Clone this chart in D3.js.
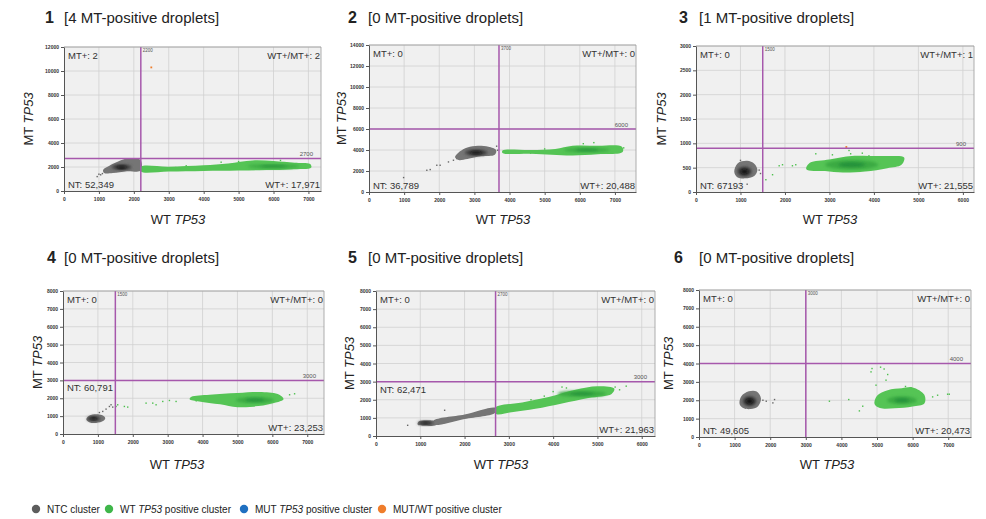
<!DOCTYPE html>
<html>
<head>
<meta charset="utf-8">
<script src="https://cdn.jsdelivr.net/npm/d3@7/dist/d3.min.js"></script>
<style>
  body { margin: 0; background: #fff; font-family: "Liberation Sans", Arial, sans-serif; }
  .tick text { font-size: 5px; font-weight: bold; fill: #333; }
</style>
</head>
<body>
<svg id="chart" width="986" height="519"></svg>
<script>
// ---- values ----
var panelNo       = [1, 2, 3, 4, 5, 6];
var mtPositive    = [4, 0, 1, 0, 0, 0];
var xMax          = [7360, 7600, 6250, 7480, 6300, 7640];
var xTickMax      = [7000, 7000, 6000, 7000, 6000, 7000];
var yMax          = [12000, 14000, 3000, 8000, 8000, 8000];
var yStep         = [2000, 2000, 500, 1000, 1000, 1000];
var xThreshold    = [2200, 3700, 1500, 1500, 2700, 3000];
var yThreshold    = [2700, 6000, 900, 3000, 3000, 4000];
var mtCount       = ["2", "0", "0", "0", "0", "0"];
var wtmtCount     = ["2", "0", "1", "0", "0", "0"];
var ntCount       = ["52,349", "36,789", "67193", "60,791", "62,471", "49,605"];
var wtCount       = ["17,971", "20,488", "21,555", "23,253", "21,963", "20,473"];

// NTC cluster outlines (one or more polygons per panel), dense core [cx, cy, rx, ry], stray droplets
var ntcShapes = [
  [[[1150,1500],[1400,1500],[1800,1650],[2200,1700],[2200,2550],[2050,2700],[1800,2700],[1550,2450],[1300,2100],[1120,1750]]],
  [[[2550,3050],[2800,3150],[3200,3400],[3580,3550],[3620,3980],[3400,4300],[3100,4400],[2800,4250],[2580,3850],[2450,3300]]],
  [[[860,420],[920,310],[1100,280],[1310,330],[1380,450],[1310,580],[1150,640],[940,590]]],
  [[[670,800],[770,640],[950,620],[1160,740],[1210,900],[1110,1060],[900,1100],[710,970]]],
  [[[940,630],[1100,560],[1360,610],[1390,780],[1200,870],[970,810]],
   [[1300,840],[2000,1180],[2700,1540],[2700,1300],[2000,940],[1300,630]]],
  [[[1140,1800],[1240,1580],[1450,1520],[1660,1680],[1740,2100],[1620,2480],[1400,2490],[1190,2220]]]
];
var ntcCore = [[1650,1980,280,220],[3050,3750,320,270],[1090,420,160,100],[880,860,190,130],[1120,720,180,100],[1420,1950,190,270]];
var ntcDots = [
  [[950,1200],[1050,1350],[1100,1450],[1000,1400]],
  [[1646,2070],[1742,2137],[1930,2548],[2025,2548],[2262,2863],[2404,3025],[2498,3187],[985,1374],[3633,4361],[3661,3979]],
  [[1420,450],[1450,380],[1150,160],[1000,650]],
  [[1139,1262],[1234,1392],[1377,1636],[1425,1505],[1330,1540],[1043,1200]],
  [[715,590],[1550,1420]],
  [[1795,2001],[1889,1947],[2075,1856],[2122,2038]]
];

// WT TP53 positive cluster
var wtShapes = [
  [[[2200,2020],[3000,2030],[4000,2150],[4700,2300],[5400,2550],[6000,2500],[6600,2350],[7050,2250],[7080,1950],[6500,1800],[5800,1750],[5000,1700],[4000,1660],[3000,1620],[2200,1620]]],
  [[[3800,3950],[4600,4000],[5300,4100],[5800,4400],[6500,4400],[7200,4300],[7220,3800],[6500,3600],[5800,3480],[5200,3550],[4600,3650],[3800,3720]]],
  [[[2480,470],[2900,430],[3300,400],[3800,420],[4300,490],[4620,560],[4680,710],[4300,740],[3900,740],[3500,740],[3000,670],[2560,600]]],
  [[[3680,2080],[4200,2200],[5000,2300],[5700,2350],[6200,2200],[6320,1950],[6100,1760],[5600,1560],[5000,1500],[4500,1660],[3900,1820],[3630,1950]]],
  [[[2700,1580],[3300,1850],[3900,2150],[4500,2550],[5000,2750],[5380,2620],[5320,2320],[4800,2100],[4200,1800],[3600,1500],[3100,1320],[2700,1230]]],
  [[[4930,1800],[5000,2250],[5300,2550],[5700,2650],[6000,2700],[6330,2300],[6330,1820],[6000,1660],[5500,1560],[5080,1580]]]
];
var wtCore = [[6000,2060,750,170],[6200,4000,650,200],[3500,560,600,100],[5500,1900,550,170],[4650,2330,550,170],[5700,2000,420,220]];
var wtDots = [
  [[4500,2400],[5000,2450],[3500,2100],[6200,2550],[2600,1900],[3200,1950]],
  [[4000,3800],[4300,3850],[4600,3700],[5000,4100],[6100,4600],[6400,4700],[7250,4200]],
  [[1571,252],[1721,355],[1870,539],[1945,560],[2168,539],[2243,560],[2693,785],[3067,764],[3440,853],[3477,785],[3739,798],[3888,743],[4487,628],[4600,600]],
  [[1520,1541],[1568,1634],[1759,1541],[1855,1505],[2381,1727],[2572,1727],[2859,1820],[3050,1876],[3241,1820],[2668,1634],[6494,2195],[6637,2250],[3818,1857]],
  [[3500,2000],[3800,2200],[4000,2450],[4300,2650],[4200,2700],[5500,2550],[5650,2750],[5400,2700]],
  [[3663,1947],[4206,2038],[4505,1421],[4599,1676],[4832,3544],[4860,3726],[5100,3800],[5200,3700],[5300,3400],[4972,2820],[5253,3093],[5800,2750],[6562,2183],[6702,2274],[6983,2329],[7030,2329]]
];
// MUT/WT double positive droplets
var dblDots = [[[2500,10300]], [], [[3380,925]], [], [], []];

var legendLabels = [["NTC cluster"], ["WT ", "TP53", " positive cluster"], ["MUT ", "TP53", " positive cluster"], ["MUT/WT positive cluster"]];
var legendColors = ["#5d5d5d", "#3fb64a", "#1f70c1", "#ef7d2b"];

// ---- layout ----
var layout = [
  {left: 64,  top: 47,  w: 257, h: 144, numX: 45,  titleX: 64,  titleY: 23,  ylabX: 28,  xlabX: 178, xlabY: 224, ntTop: false},
  {left: 369, top: 45,  w: 267, h: 147, numX: 348, titleX: 368, titleY: 23,  ylabX: 341, xlabX: 503, xlabY: 224, ntTop: false},
  {left: 696, top: 46,  w: 278, h: 146, numX: 679, titleX: 699, titleY: 23,  ylabX: 661, xlabX: 830, xlabY: 224, ntTop: false},
  {left: 63,  top: 291, w: 261, h: 143, numX: 47,  titleX: 64,  titleY: 263, ylabX: 37,  xlabX: 177, xlabY: 469, ntTop: true},
  {left: 376, top: 291, w: 279, h: 145, numX: 348, titleX: 368, titleY: 263, ylabX: 349, xlabX: 501, xlabY: 469, ntTop: true},
  {left: 699, top: 290, w: 272, h: 147, numX: 674, titleX: 699, titleY: 263, ylabX: 668, xlabX: 827, xlabY: 469, ntTop: false}
];

var purple = "#a658ac";
var svg = d3.select("#chart");

var defs = svg.append("defs");
defs.append("filter").attr("id", "soft").attr("x", "-20%").attr("y", "-50%").attr("width", "140%").attr("height", "200%")
  .append("feGaussianBlur").attr("stdDeviation", 0.6);
defs.append("filter").attr("id", "softer").attr("x", "-50%").attr("y", "-50%").attr("width", "200%").attr("height", "200%")
  .append("feGaussianBlur").attr("stdDeviation", 1.8);

panelNo.forEach(function(n, i) {
  var L = layout[i];
  var x = d3.scaleLinear().domain([0, xMax[i]]).range([0, L.w]);
  var y = d3.scaleLinear().domain([0, yMax[i]]).range([L.h, 0]);
  var xt = d3.range(0, xTickMax[i] + 1, 1000);
  var yt = d3.range(0, yMax[i] + 1, yStep[i]);

  // title
  svg.append("text").attr("x", L.numX).attr("y", L.titleY).style("font-size", "16px").style("font-weight", "bold")
    .style("fill", "#222").text(n);
  svg.append("text").attr("x", L.titleX).attr("y", L.titleY).style("font-size", "15px").style("fill", "#222")
    .text("[" + mtPositive[i] + " MT-positive droplets]");

  // axis titles
  var yl = svg.append("text").attr("transform", "translate(" + L.ylabX + "," + (L.top + L.h / 2) + ") rotate(-90)")
    .attr("text-anchor", "middle").attr("dy", "0.35em").style("font-size", "13px").style("fill", "#222");
  yl.append("tspan").text("MT ");
  yl.append("tspan").style("font-style", "italic").text("TP53");
  var xl = svg.append("text").attr("x", L.xlabX).attr("y", L.xlabY).attr("text-anchor", "middle")
    .style("font-size", "13px").style("fill", "#222");
  xl.append("tspan").text("WT ");
  xl.append("tspan").style("font-style", "italic").text("TP53");

  var g = svg.append("g").attr("transform", "translate(" + L.left + "," + L.top + ")");

  g.append("rect").attr("width", L.w).attr("height", L.h).attr("fill", "#f0f0f0");

  // gridlines
  g.append("g").selectAll("line").data(xt.slice(1)).enter().append("line")
    .attr("x1", function(d) { return x(d); }).attr("x2", function(d) { return x(d); })
    .attr("y1", 0).attr("y2", L.h).attr("stroke", "#d0d0d0").attr("stroke-width", 0.8);
  g.append("g").selectAll("line").data(yt.slice(1)).enter().append("line")
    .attr("y1", function(d) { return y(d); }).attr("y2", function(d) { return y(d); })
    .attr("x1", 0).attr("x2", L.w).attr("stroke", "#d0d0d0").attr("stroke-width", 0.8);

  // clip clusters to plot
  var clipId = "clip" + n;
  defs.append("clipPath").attr("id", clipId).append("rect").attr("width", L.w).attr("height", L.h);
  var pg = g.append("g").attr("clip-path", "url(#" + clipId + ")");

  var outline = d3.line().x(function(d) { return x(d[0]); }).y(function(d) { return y(d[1]); })
    .curve(d3.curveCatmullRomClosed.alpha(0.5));

  function cluster(shapes, core, dots, dotColor, edge, mid, dark) {
    dots.forEach(function(p) {
      pg.append("rect").attr("x", x(p[0]) - 0.7).attr("y", y(p[1]) - 0.7).attr("width", 1.4).attr("height", 1.4)
        .attr("fill", dotColor);
    });
    pg.selectAll(null).data(shapes).enter().append("path")
      .attr("d", outline).attr("fill", edge).attr("filter", "url(#soft)");
    pg.append("ellipse")
      .attr("cx", x(core[0])).attr("cy", y(core[1]))
      .attr("rx", x(core[2]) - x(0)).attr("ry", y(0) - y(core[3]))
      .attr("fill", mid).attr("filter", "url(#softer)");
    pg.append("ellipse")
      .attr("cx", x(core[0])).attr("cy", y(core[1]))
      .attr("rx", (x(core[2]) - x(0)) * 0.5).attr("ry", (y(0) - y(core[3])) * 0.5)
      .attr("fill", dark).attr("filter", "url(#softer)");
  }
  cluster(ntcShapes[i], ntcCore[i], ntcDots[i], "#666", "#747474", "#3a3a3a", "#0d0d0d");
  cluster(wtShapes[i], wtCore[i], wtDots[i], "#4cbf4c", "#55c455", "#3aaa42", "#23913a");
  dblDots[i].forEach(function(p) {
    pg.append("rect").attr("x", x(p[0]) - 0.9).attr("y", y(p[1]) - 0.9).attr("width", 1.8).attr("height", 1.8)
      .attr("fill", legendColors[3]);
  });

  // threshold lines
  g.append("line").attr("x1", x(xThreshold[i])).attr("x2", x(xThreshold[i])).attr("y1", 0).attr("y2", L.h)
    .attr("stroke", purple).attr("stroke-width", 1.5);
  g.append("line").attr("y1", y(yThreshold[i])).attr("y2", y(yThreshold[i])).attr("x1", 0).attr("x2", L.w)
    .attr("stroke", purple).attr("stroke-width", 1.5);
  g.append("text").attr("x", L.w - 8).attr("y", y(yThreshold[i]) - 2.5).attr("text-anchor", "end")
    .style("font-size", "6px").style("fill", "#555").text(yThreshold[i]);
  g.append("text").attr("x", x(xThreshold[i]) + 2).attr("y", 4.5)
    .style("font-size", "4.5px").style("fill", "#555").text(xThreshold[i]);

  // border
  g.append("path").attr("d", "M0,0H" + L.w + "V" + L.h).attr("fill", "none").attr("stroke", "#9a9a9a").attr("stroke-width", 0.8);

  // axes
  var xa = g.append("g").attr("transform", "translate(0," + L.h + ")")
    .call(d3.axisBottom(x).tickValues(xt).tickSize(3).tickSizeOuter(0).tickFormat(d3.format("d")));
  var ya = g.append("g")
    .call(d3.axisLeft(y).tickValues(yt).tickSize(3).tickSizeOuter(0).tickFormat(d3.format("d")));
  [xa, ya].forEach(function(a) {
    a.select(".domain").attr("stroke", "#555");
    a.selectAll(".tick line").attr("stroke", "#555");
  });
  xa.selectAll(".tick text").attr("y", 6);
  ya.selectAll(".tick text").attr("x", -5);

  // quadrant counts
  var lab = function(tx, ty, anchor, s) {
    g.append("text").attr("x", tx).attr("y", ty).attr("text-anchor", anchor)
      .style("font-size", "9.5px").style("fill", "#333").text(s);
  };
  lab(4, 12, "start", "MT+: " + mtCount[i]);
  lab(L.w - 1, 12, "end", "WT+/MT+: " + wtmtCount[i]);
  lab(4, L.ntTop ? y(yThreshold[i]) + 11 : L.h - 3, "start", "NT: " + ntCount[i]);
  lab(L.w - 1, L.h - 3, "end", "WT+: " + wtCount[i]);
});

// legend
var legX = [36, 109, 244, 382];
var leg = svg.append("g").attr("transform", "translate(0,509)");
legendLabels.forEach(function(parts, i) {
  leg.append("circle").attr("cx", legX[i]).attr("cy", 0).attr("r", 4.2).attr("fill", legendColors[i]);
  var tx = leg.append("text").attr("x", legX[i] + 11).attr("y", 3.5).style("font-size", "10px").style("fill", "#222");
  parts.forEach(function(p, j) {
    tx.append("tspan").style("font-style", j === 1 ? "italic" : "normal").text(p);
  });
});
</script>
</body>
</html>
